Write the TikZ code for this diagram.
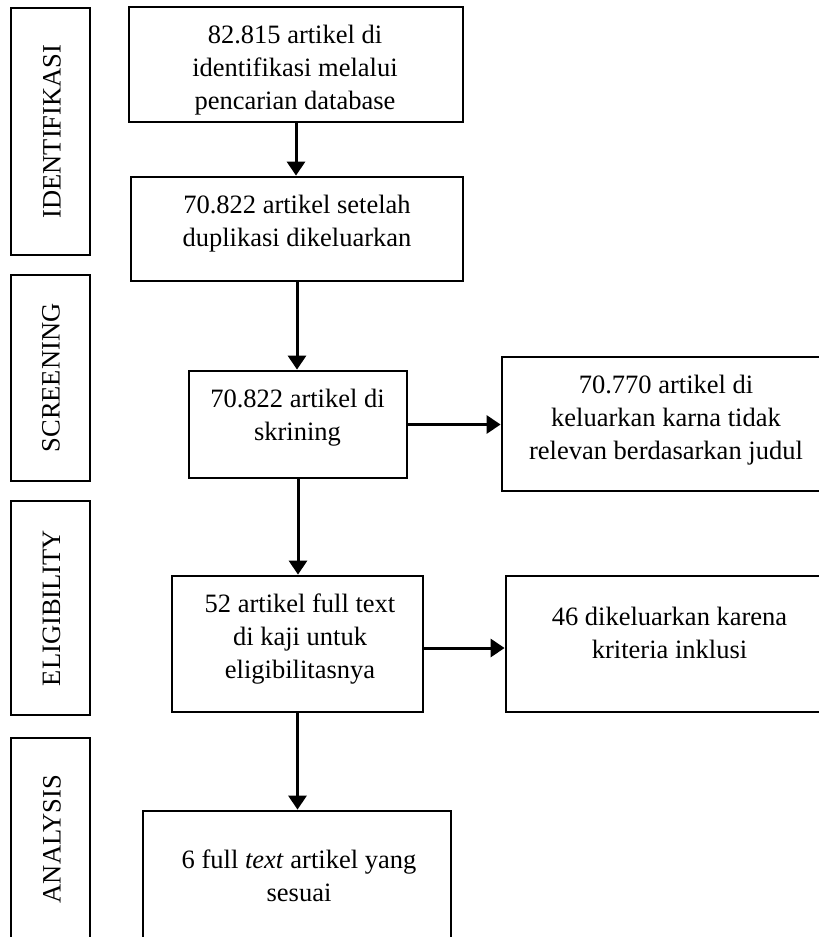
\documentclass[tikz,border=0pt]{standalone}
\usepackage{fontspec}
\setmainfont{Liberation Serif}
\usetikzlibrary{arrows.meta}
\begin{document}
\begin{tikzpicture}[x=0.5pt,y=-0.5pt,
  box/.style={draw,line width=1.4pt,inner sep=0pt},
  txt/.style={align=center,inner sep=0pt,anchor=north,font=\fontsize{13.25}{16.5}\selectfont},
  lbl/.style={rotate=90,inner sep=0pt,font=\fontsize{13.25}{16.5}\selectfont},
  arr/.style={line width=1.5pt,-{Triangle[width=9pt,length=7pt]}}]
\useasboundingbox (0,0) rectangle (819,937);
\clip (0,0) rectangle (819,937);
% stage label boxes
\node[box,minimum width=39.5pt,minimum height=123.5pt] (l1) at (50.5,131.5) {};
\node[box,minimum width=39.5pt,minimum height=103pt] (l2) at (50.5,378) {};
\node[box,minimum width=39.5pt,minimum height=107pt] (l3) at (50.5,608) {};
\node[box,minimum width=39.5pt,minimum height=101pt] (l4) at (50.5,839) {};
\node[lbl] (lt1) at (52,131.5) {IDENTIFIKASI};
\node[lbl] (lt2) at (51,378) {SCREENING};
\node[lbl] (lt3) at (51.5,608) {ELIGIBILITY};
\node[lbl] (lt4) at (52,839) {ANALYSIS};
% flow boxes
\node[box,minimum width=167pt,minimum height=57.5pt] (b1) at (296,64.5) {};
\node[box,minimum width=166pt,minimum height=52pt] (b2) at (297,229) {};
\node[box,minimum width=109pt,minimum height=53.5pt] (b3) at (298,424.5) {};
\node[box,minimum width=164.5pt,minimum height=67pt] (b4) at (666.5,424) {};
\node[box,minimum width=125.5pt,minimum height=68pt] (b5) at (297.5,644) {};
\node[box,minimum width=163.5pt,minimum height=68pt] (b6) at (669.5,644) {};
\node[box,minimum width=154pt,minimum height=74.5pt] (b7) at (297,885.5) {};
% texts
\node[txt] (t1) at (295,19.9) {\strut 82.815 artikel di\\identifikasi melalui\\pencarian database\strut};
\node[txt] (t2) at (297,189.9) {\strut 70.822 artikel setelah\\duplikasi dikeluarkan\strut};
\node[txt] (t3) at (297.5,383.9) {\strut 70.822 artikel di\\skrining\strut};
\node[txt] (t4) at (666,369.9) {\strut 70.770 artikel di\\keluarkan karna tidak\\relevan berdasarkan judul\strut};
\node[txt] (t5) at (300,588.9) {\strut 52 artikel full text\\di kaji untuk\\eligibilitasnya\strut};
\node[txt] (t6) at (669.5,601.9) {\strut 46 dikeluarkan karena\\kriteria inklusi\strut};
\node[txt] (t7) at (299,844.9) {\strut 6 full \textit{text} artikel yang\\sesuai\strut};
% arrows
\draw[arr] (b1.south) -- (b1.south |- b2.north);
\draw[arr] (b2.south) -- (b2.south |- b3.north);
\draw[arr] (b3.south) -- (b3.south |- b5.north);
\draw[arr] (b5.south) -- (b5.south |- b7.north);
\draw[arr] (b3.east) -- (b3.east -| b4.west);
\draw[arr] ([yshift=-2pt]b5.east) -- ([yshift=-2pt]b5.east -| b6.west);
\end{tikzpicture}
\end{document}
